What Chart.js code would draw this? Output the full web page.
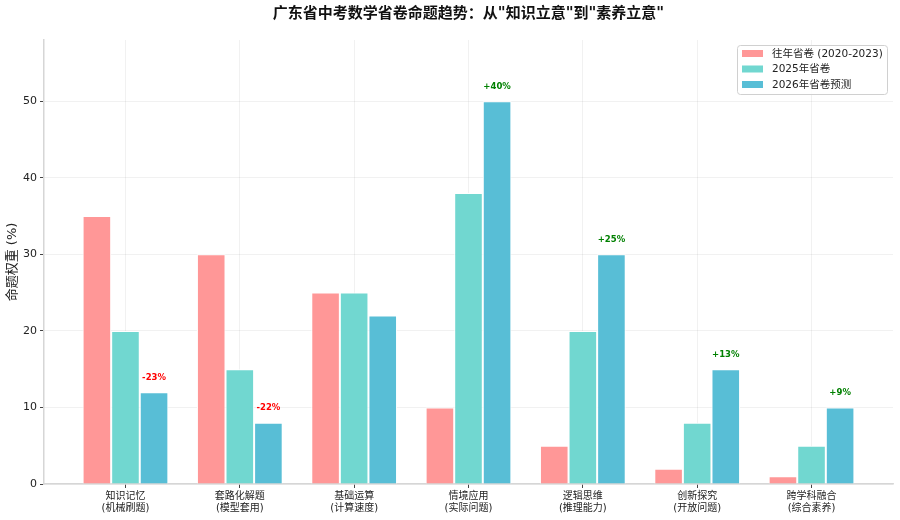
<!DOCTYPE html>
<html>
<head>
<meta charset="utf-8">
<script src="https://cdn.jsdelivr.net/npm/chart.js@4.4.1/dist/chart.umd.min.js"></script>
<style>
html,body{margin:0;padding:0;background:#fff;}
#wrap{width:900px;height:520px;}
</style>
</head>
<body>
<div id="wrap"><canvas id="c" width="900" height="520"></canvas></div>
<script>
const categories = ['知识记忆','套路化解题','基础运算','情境应用','逻辑思维','创新探究','跨学科融合'];
const subLabels = ['(机械刷题)','(模型套用)','(计算速度)','(实际问题)','(推理能力)','(开放问题)','(综合素养)'];
const seriesNames = ['往年省卷 (2020-2023)','2025年省卷','2026年省卷预测'];
const pastValues = [35,30,25,10,5,2,1];
const values2025 = [20,15,25,38,20,8,5];
const values2026 = [12,8,22,50,30,15,10];
const changeLabels = ['-23%','-22%','','+40%','+25%','+13%','+9%'];
const yTicks = [0,10,20,30,40,50];

const colors = ['#FF9797','#71D7D0','#58BED6'];
const FONT = '"DejaVu Sans", "Noto Sans CJK SC", sans-serif';

const toPts = arr => arr.map((v,i)=>({x:i,y:v}));

const changePlugin = {
  id:'changeLabels',
  afterDatasetsDraw(chart){
    const {ctx} = chart;
    const meta = chart.getDatasetMeta(2);
    const ys = chart.scales.y;
    ctx.save();
    ctx.font = 'bold 8.5px ' + FONT;
    ctx.textAlign = 'center';
    ctx.textBaseline = 'bottom';
    changeLabels.forEach((t,i)=>{
      if(!t) return;
      const el = meta.data[i];
      ctx.fillStyle = t.startsWith('-') ? '#FF0000' : '#008000';
      ctx.fillText(t, el.x, ys.getPixelForValue(values2026[i] + 1.35));
    });
    ctx.restore();
  }
};

const legendPlugin = {
  id:'boxLegend',
  afterDraw(chart){
    const {ctx, chartArea} = chart;
    const w = 150, h = 49;
    const x0 = chartArea.right - 6 - w, y0 = chartArea.top + 5;
    ctx.save();
    ctx.beginPath();
    ctx.roundRect(x0+0.5, y0+0.5, w, h, 3);
    ctx.fillStyle = 'rgba(255,255,255,0.85)';
    ctx.fill();
    ctx.strokeStyle = '#d0d0d0';
    ctx.lineWidth = 1;
    ctx.stroke();
    ctx.font = '10.5px ' + FONT;
    ctx.textBaseline = 'middle';
    ctx.textAlign = 'left';
    const rows = [8.5, 24, 39.5];
    seriesNames.forEach((n,i)=>{
      const cy = y0 + rows[i];
      ctx.fillStyle = colors[i];
      ctx.fillRect(x0+5, cy-3.5, 21, 7);
      ctx.fillStyle = '#222';
      ctx.fillText(n, x0+35, cy+0.5);
    });
    ctx.restore();
  }
};

new Chart(document.getElementById('c'), {
  type:'bar',
  data:{
    datasets:[
      {label:seriesNames[0], data:toPts(pastValues), backgroundColor:colors[0], borderColor:'#ffffff', borderWidth:1, borderSkipped:'start'},
      {label:seriesNames[1], data:toPts(values2025), backgroundColor:colors[1], borderColor:'#ffffff', borderWidth:1, borderSkipped:'start'},
      {label:seriesNames[2], data:toPts(values2026), backgroundColor:colors[2], borderColor:'#ffffff', borderWidth:1, borderSkipped:'start'}
    ]
  },
  options:{
    responsive:false,
    animation:false,
    categoryPercentage:0.75,
    barPercentage:1.0,
    layout:{padding:{left:0,right:7,top:0,bottom:0}},
    plugins:{
      legend:{display:false},
      tooltip:{enabled:false},
      title:{
        display:true,
        fullSize:false,
        text:'广东省中考数学省卷命题趋势：从"知识立意"到"素养立意"',
        font:{family:FONT, size:15, weight:'bold'},
        color:'#111',
        padding:{top:5,bottom:17}
      }
    },
    scales:{
      x:{
        type:'linear',
        min:-0.7125,
        max:6.7125,
        offset:false,
        z:1,
        afterBuildTicks(s){ s.ticks = categories.map((_,i)=>({value:i})); },
        afterFit(s){ s.height = 36; },
        grid:{offset:false, color:'rgba(0,0,0,0.07)', lineWidth:0.8, tickColor:'#444', tickLength:4, tickWidth:1},
        border:{display:true, color:'#d6d6d6', width:1.5},
        ticks:{
          autoSkip:false, maxRotation:0, minRotation:0, padding:2,
          font:{family:FONT, size:10, lineHeight:1.2}, color:'#222',
          callback:(v)=>[categories[v], subLabels[v]]
        }
      },
      y:{
        min:0,
        max:58,
        z:1,
        afterBuildTicks(s){ s.ticks = yTicks.map(v=>({value:v})); },
        afterFit(s){ s.width = 44; },
        grid:{color:'rgba(0,0,0,0.07)', lineWidth:0.8, tickColor:'#444', tickLength:4, tickWidth:1},
        border:{display:true, color:'#d6d6d6', width:1.5},
        ticks:{padding:3, font:{family:FONT, size:11}, color:'#222'},
        title:{display:true, text:'命题权重 (%)', font:{family:FONT, size:13}, color:'#222', padding:{top:5,bottom:0}}
      }
    }
  },
  plugins:[changePlugin, legendPlugin]
});
</script>
</body>
</html>
